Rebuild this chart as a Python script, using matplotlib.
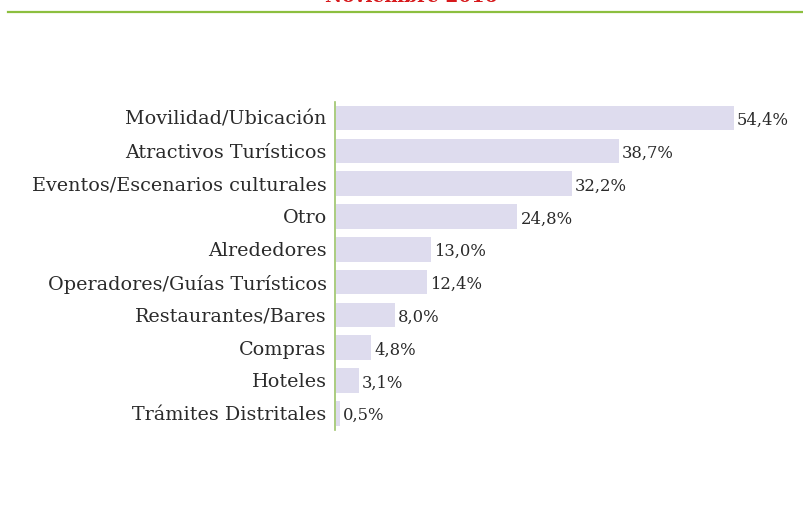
import matplotlib
matplotlib.use('Agg')
import matplotlib.pyplot as plt
from matplotlib.lines import Line2D

# Data
categorias = ['Movilidad/Ubicación', 'Atractivos Turísticos', 'Eventos/Escenarios culturales',
              'Otro', 'Alrededores', 'Operadores/Guías Turísticos', 'Restaurantes/Bares',
              'Compras', 'Hoteles', 'Trámites Distritales']
valores = [54.4, 38.7, 32.2, 24.8, 13.0, 12.4, 8.0, 4.8, 3.1, 0.5]
titulo = 'Noviembre 2016'

W, H = 804, 513
fig = plt.figure(figsize=(W / 100, H / 100), dpi=100)
plt.rcParams['font.family'] = ['DejaVu Serif']

# axes placed in pixel terms
left, right, top, bottom = 335, 773, 101.6, 429.6
ax = fig.add_axes([left / W, 1 - bottom / H, (right - left) / W, (bottom - top) / H])

y = list(range(len(categorias)))
ax.barh(y, valores, height=0.75, color='#dedcee', left=0.2)
ax.set_xlim(0, 60)
ax.set_ylim(len(categorias) - 0.5, -0.5)
ax.set_yticks(y)
ax.set_yticklabels(categorias, fontsize=13.8, color='#2a2a2a')
ax.tick_params(axis='y', length=0, pad=6)
ax.set_xticks([])
for s in ['top', 'right', 'bottom']:
    ax.spines[s].set_visible(False)
ax.spines['left'].set_color('#9cc46a')
ax.spines['left'].set_linewidth(1.2)

for yi, v in zip(y, valores):
    ax.text(v + 0.6, yi + 0.08, f'{v:.1f}%'.replace('.', ','), va='center', ha='left',
            fontsize=11.8, color='#2a2a2a')

# clipped title and green rule at the top
fig.text(411 / W, 1 - 2 / H, titulo, ha='center', va='baseline', fontsize=13.5,
         fontweight='bold', color='#d7191c')
fig.add_artist(Line2D([8 / W, 1], [1 - 12 / H, 1 - 12 / H], color='#8cbf3f', linewidth=1.6,
                      transform=fig.transFigure))

fig.savefig('out.png', dpi=100)
